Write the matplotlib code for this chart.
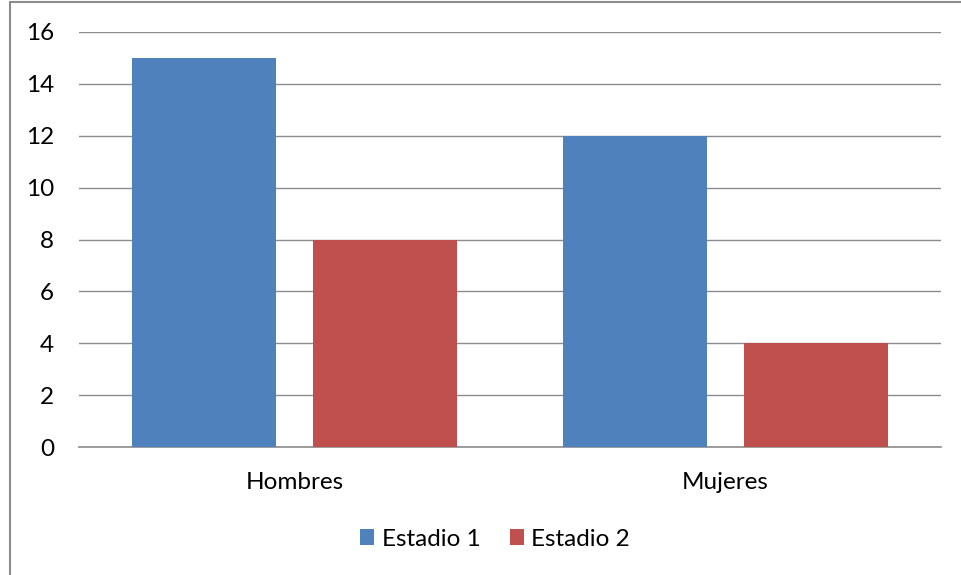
import matplotlib.pyplot as plt
import numpy as np
from matplotlib.patches import Rectangle

categories = ['Hombres', 'Mujeres']
series_names = ['Estadio 1', 'Estadio 2']
estadio1 = [15, 12]
estadio2 = [8, 4]
yticks = [0, 2, 4, 6, 8, 10, 12, 14, 16]

plt.rcParams['font.family'] = ['Lato', 'DejaVu Sans']

fig = plt.figure(figsize=(9.61, 5.75), dpi=100)
ax = fig.add_axes([79 / 961, 1 - 447 / 575, 862 / 961, 415 / 575])

x = np.arange(len(categories))
width = 0.334
offset = 0.209
ax.bar(x - offset, estadio1, width, color='#4F81BD', label=series_names[0], zorder=3)
ax.bar(x + offset, estadio2, width, color='#C0504D', label=series_names[1], zorder=3)

ax.set_xlim(-0.5, len(categories) - 0.5)
ax.set_ylim(0, 16)
ax.set_yticks(yticks)
ax.set_xticks(x)
ax.set_xticklabels(categories)
ax.tick_params(axis='both', length=0, labelsize=17.5)
ax.tick_params(axis='y', pad=18)
ax.tick_params(axis='x', pad=18)
ax.grid(True, axis='y', color='#8c8c8c', linewidth=1.0, zorder=0)
for s in ['top', 'right', 'left']:
    ax.spines[s].set_visible(False)
ax.spines['bottom'].set_color('#8c8c8c')
ax.spines['bottom'].set_linewidth(1.2)

ax.legend(loc='center', bbox_to_anchor=(495 / 961, 1 - 539 / 575),
          bbox_transform=fig.transFigure, ncol=2, frameon=False,
          fontsize=17.5, handlelength=0.6, handleheight=0.6,
          handletextpad=0.3, columnspacing=1.2)

# outer chart frame
fig.patches.append(Rectangle((10 / 961, -0.1), 2, 1.1 - 2 / 575,
                             transform=fig.transFigure, fill=False,
                             edgecolor='#8c8c8c', linewidth=1.5))

fig.savefig('out.png', dpi=100)
